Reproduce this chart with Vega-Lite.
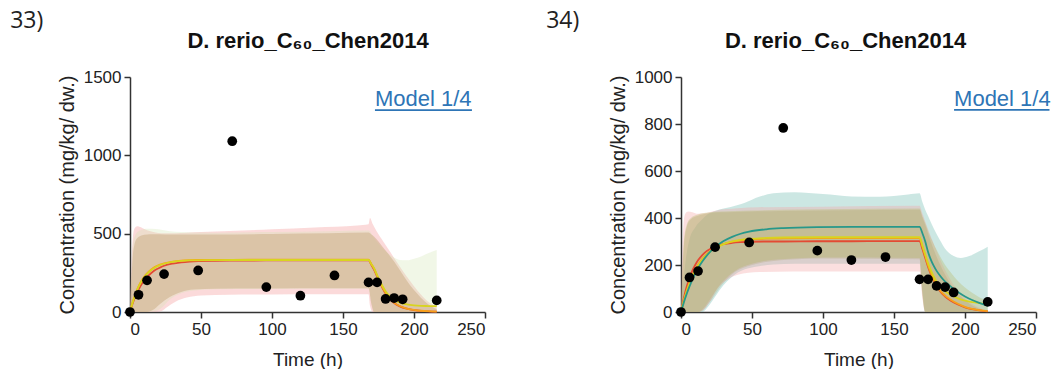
{
  "$schema": "https://vega.github.io/schema/vega-lite/v6.json",
  "padding": {"left": 10, "top": 10, "right": 0, "bottom": 0},
  "spacing": 60,
  "config": {
    "view": {"stroke": null},
    "font": "Liberation Sans",
    "axis": {
      "grid": false,
      "domainColor": "#333333",
      "tickColor": "#333333",
      "domainWidth": 1.5,
      "tickWidth": 1.5,
      "tickSize": 6,
      "labelFont": "Liberation Sans",
      "labelFontSize": 17,
      "labelColor": "#222222",
      "labelPadding": 3,
      "titleFont": "Liberation Sans",
      "titleFontSize": 20,
      "titleFontWeight": "normal",
      "titleColor": "#222222"
    },
    "title": {"font": "Open Sans", "fontSize": 23, "fontWeight": "normal", "color": "#222222", "anchor": "start", "frame": "bounds", "offset": -4}
  },
  "datasets": {
    "pts33": [
      {"t": 0, "c": 0}, {"t": 6, "c": 110}, {"t": 12, "c": 202}, {"t": 24, "c": 242}, {"t": 48, "c": 265},
      {"t": 72, "c": 1090}, {"t": 96, "c": 159}, {"t": 120, "c": 104}, {"t": 144, "c": 233}, {"t": 168, "c": 189},
      {"t": 174, "c": 189}, {"t": 180, "c": 83}, {"t": 186, "c": 89}, {"t": 192, "c": 81}, {"t": 216, "c": 74}
    ],
    "pts34": [
      {"t": 0, "c": 0}, {"t": 6, "c": 147}, {"t": 12, "c": 174}, {"t": 24, "c": 276}, {"t": 48, "c": 296},
      {"t": 72, "c": 783}, {"t": 96, "c": 261}, {"t": 120, "c": 221}, {"t": 144, "c": 234}, {"t": 168, "c": 139},
      {"t": 174, "c": 139}, {"t": 180, "c": 111}, {"t": 186, "c": 106}, {"t": 192, "c": 83}, {"t": 216, "c": 43}
    ],
    "fit33": [
      {"m": "M1", "t": 0, "c": 0}, {"m": "M1", "t": 2, "c": 57}, {"m": "M1", "t": 4, "c": 104}, {"m": "M1", "t": 6, "c": 142},
      {"m": "M1", "t": 8, "c": 175}, {"m": "M1", "t": 10, "c": 201}, {"m": "M1", "t": 12, "c": 223}, {"m": "M1", "t": 15, "c": 249},
      {"m": "M1", "t": 18, "c": 269}, {"m": "M1", "t": 21, "c": 283}, {"m": "M1", "t": 24, "c": 295}, {"m": "M1", "t": 30, "c": 309},
      {"m": "M1", "t": 36, "c": 317}, {"m": "M1", "t": 42, "c": 322}, {"m": "M1", "t": 48, "c": 325}, {"m": "M1", "t": 60, "c": 327},
      {"m": "M1", "t": 72, "c": 328}, {"m": "M1", "t": 96, "c": 329}, {"m": "M1", "t": 120, "c": 329}, {"m": "M1", "t": 144, "c": 330},
      {"m": "M1", "t": 168, "c": 330}, {"m": "M1", "t": 170, "c": 300}, {"m": "M1", "t": 172, "c": 268}, {"m": "M1", "t": 174, "c": 226},
      {"m": "M1", "t": 176, "c": 186}, {"m": "M1", "t": 178, "c": 150}, {"m": "M1", "t": 180, "c": 118}, {"m": "M1", "t": 183, "c": 82},
      {"m": "M1", "t": 186, "c": 57}, {"m": "M1", "t": 190, "c": 36}, {"m": "M1", "t": 195, "c": 21}, {"m": "M1", "t": 200, "c": 12},
      {"m": "M1", "t": 205, "c": 7}, {"m": "M1", "t": 210, "c": 4}, {"m": "M1", "t": 216, "c": 2},
      {"m": "M2", "t": 0, "c": 0}, {"m": "M2", "t": 2, "c": 67}, {"m": "M2", "t": 4, "c": 120}, {"m": "M2", "t": 6, "c": 163},
      {"m": "M2", "t": 8, "c": 198}, {"m": "M2", "t": 10, "c": 225}, {"m": "M2", "t": 12, "c": 246}, {"m": "M2", "t": 15, "c": 271},
      {"m": "M2", "t": 18, "c": 290}, {"m": "M2", "t": 21, "c": 302}, {"m": "M2", "t": 24, "c": 311}, {"m": "M2", "t": 30, "c": 322},
      {"m": "M2", "t": 36, "c": 328}, {"m": "M2", "t": 42, "c": 331}, {"m": "M2", "t": 48, "c": 332}, {"m": "M2", "t": 60, "c": 333},
      {"m": "M2", "t": 72, "c": 333}, {"m": "M2", "t": 96, "c": 334}, {"m": "M2", "t": 120, "c": 334}, {"m": "M2", "t": 144, "c": 334},
      {"m": "M2", "t": 168, "c": 334}, {"m": "M2", "t": 170, "c": 305}, {"m": "M2", "t": 172, "c": 275}, {"m": "M2", "t": 174, "c": 232},
      {"m": "M2", "t": 176, "c": 192}, {"m": "M2", "t": 178, "c": 155}, {"m": "M2", "t": 180, "c": 122}, {"m": "M2", "t": 183, "c": 85},
      {"m": "M2", "t": 186, "c": 60}, {"m": "M2", "t": 190, "c": 38}, {"m": "M2", "t": 195, "c": 22}, {"m": "M2", "t": 200, "c": 13},
      {"m": "M2", "t": 205, "c": 8}, {"m": "M2", "t": 210, "c": 5}, {"m": "M2", "t": 216, "c": 3},
      {"m": "M3", "t": 0, "c": 0}, {"m": "M3", "t": 2, "c": 65}, {"m": "M3", "t": 4, "c": 118}, {"m": "M3", "t": 6, "c": 160},
      {"m": "M3", "t": 8, "c": 194}, {"m": "M3", "t": 10, "c": 221}, {"m": "M3", "t": 12, "c": 243}, {"m": "M3", "t": 15, "c": 268},
      {"m": "M3", "t": 18, "c": 286}, {"m": "M3", "t": 21, "c": 299}, {"m": "M3", "t": 24, "c": 308}, {"m": "M3", "t": 30, "c": 320},
      {"m": "M3", "t": 36, "c": 326}, {"m": "M3", "t": 42, "c": 329}, {"m": "M3", "t": 48, "c": 330}, {"m": "M3", "t": 60, "c": 331},
      {"m": "M3", "t": 72, "c": 332}, {"m": "M3", "t": 96, "c": 332}, {"m": "M3", "t": 120, "c": 332}, {"m": "M3", "t": 144, "c": 332},
      {"m": "M3", "t": 168, "c": 332}, {"m": "M3", "t": 170, "c": 305}, {"m": "M3", "t": 172, "c": 276}, {"m": "M3", "t": 174, "c": 236},
      {"m": "M3", "t": 176, "c": 198}, {"m": "M3", "t": 178, "c": 163}, {"m": "M3", "t": 180, "c": 133}, {"m": "M3", "t": 183, "c": 100},
      {"m": "M3", "t": 186, "c": 78}, {"m": "M3", "t": 190, "c": 60}, {"m": "M3", "t": 195, "c": 48}, {"m": "M3", "t": 200, "c": 42},
      {"m": "M3", "t": 205, "c": 39}, {"m": "M3", "t": 210, "c": 38}, {"m": "M3", "t": 216, "c": 37}
    ],
    "fit34": [
      {"m": "M1", "t": 0, "c": 0}, {"m": "M1", "t": 2, "c": 59}, {"m": "M1", "t": 4, "c": 107}, {"m": "M1", "t": 6, "c": 145},
      {"m": "M1", "t": 8, "c": 176}, {"m": "M1", "t": 10, "c": 200}, {"m": "M1", "t": 12, "c": 220}, {"m": "M1", "t": 15, "c": 242},
      {"m": "M1", "t": 18, "c": 259}, {"m": "M1", "t": 21, "c": 270}, {"m": "M1", "t": 24, "c": 279}, {"m": "M1", "t": 30, "c": 289},
      {"m": "M1", "t": 36, "c": 294}, {"m": "M1", "t": 42, "c": 297}, {"m": "M1", "t": 48, "c": 299}, {"m": "M1", "t": 60, "c": 300},
      {"m": "M1", "t": 72, "c": 300}, {"m": "M1", "t": 96, "c": 301}, {"m": "M1", "t": 120, "c": 301}, {"m": "M1", "t": 144, "c": 302},
      {"m": "M1", "t": 168, "c": 302}, {"m": "M1", "t": 170, "c": 268}, {"m": "M1", "t": 172, "c": 230}, {"m": "M1", "t": 174, "c": 192},
      {"m": "M1", "t": 176, "c": 160}, {"m": "M1", "t": 178, "c": 133}, {"m": "M1", "t": 180, "c": 110}, {"m": "M1", "t": 183, "c": 84},
      {"m": "M1", "t": 186, "c": 66}, {"m": "M1", "t": 190, "c": 48}, {"m": "M1", "t": 195, "c": 32}, {"m": "M1", "t": 200, "c": 20},
      {"m": "M1", "t": 205, "c": 12}, {"m": "M1", "t": 210, "c": 7}, {"m": "M1", "t": 216, "c": 3},
      {"m": "M2", "t": 0, "c": 0}, {"m": "M2", "t": 2, "c": 49}, {"m": "M2", "t": 4, "c": 90}, {"m": "M2", "t": 6, "c": 125},
      {"m": "M2", "t": 8, "c": 155}, {"m": "M2", "t": 10, "c": 180}, {"m": "M2", "t": 12, "c": 201}, {"m": "M2", "t": 15, "c": 226},
      {"m": "M2", "t": 18, "c": 246}, {"m": "M2", "t": 21, "c": 262}, {"m": "M2", "t": 24, "c": 273}, {"m": "M2", "t": 30, "c": 289},
      {"m": "M2", "t": 36, "c": 299}, {"m": "M2", "t": 42, "c": 305}, {"m": "M2", "t": 48, "c": 308}, {"m": "M2", "t": 60, "c": 312},
      {"m": "M2", "t": 72, "c": 313}, {"m": "M2", "t": 96, "c": 314}, {"m": "M2", "t": 120, "c": 314}, {"m": "M2", "t": 144, "c": 314},
      {"m": "M2", "t": 168, "c": 314}, {"m": "M2", "t": 170, "c": 278}, {"m": "M2", "t": 172, "c": 238}, {"m": "M2", "t": 174, "c": 198},
      {"m": "M2", "t": 176, "c": 165}, {"m": "M2", "t": 178, "c": 138}, {"m": "M2", "t": 180, "c": 115}, {"m": "M2", "t": 183, "c": 88},
      {"m": "M2", "t": 186, "c": 70}, {"m": "M2", "t": 190, "c": 52}, {"m": "M2", "t": 195, "c": 35}, {"m": "M2", "t": 200, "c": 22},
      {"m": "M2", "t": 205, "c": 13}, {"m": "M2", "t": 210, "c": 8}, {"m": "M2", "t": 216, "c": 4},
      {"m": "M3", "t": 0, "c": 0}, {"m": "M3", "t": 2, "c": 47}, {"m": "M3", "t": 4, "c": 87}, {"m": "M3", "t": 6, "c": 121},
      {"m": "M3", "t": 8, "c": 150}, {"m": "M3", "t": 10, "c": 175}, {"m": "M3", "t": 12, "c": 196}, {"m": "M3", "t": 15, "c": 222},
      {"m": "M3", "t": 18, "c": 243}, {"m": "M3", "t": 21, "c": 259}, {"m": "M3", "t": 24, "c": 271}, {"m": "M3", "t": 30, "c": 289},
      {"m": "M3", "t": 36, "c": 300}, {"m": "M3", "t": 42, "c": 307}, {"m": "M3", "t": 48, "c": 311}, {"m": "M3", "t": 60, "c": 315},
      {"m": "M3", "t": 72, "c": 317}, {"m": "M3", "t": 96, "c": 318}, {"m": "M3", "t": 120, "c": 318}, {"m": "M3", "t": 144, "c": 318},
      {"m": "M3", "t": 168, "c": 318}, {"m": "M3", "t": 170, "c": 284}, {"m": "M3", "t": 172, "c": 246}, {"m": "M3", "t": 174, "c": 208},
      {"m": "M3", "t": 176, "c": 177}, {"m": "M3", "t": 178, "c": 151}, {"m": "M3", "t": 180, "c": 129}, {"m": "M3", "t": 183, "c": 105},
      {"m": "M3", "t": 186, "c": 88}, {"m": "M3", "t": 190, "c": 72}, {"m": "M3", "t": 195, "c": 58}, {"m": "M3", "t": 200, "c": 48},
      {"m": "M3", "t": 205, "c": 42}, {"m": "M3", "t": 210, "c": 38}, {"m": "M3", "t": 216, "c": 34},
      {"m": "M4", "t": 0, "c": 0}, {"m": "M4", "t": 2, "c": 41}, {"m": "M4", "t": 4, "c": 77}, {"m": "M4", "t": 6, "c": 109},
      {"m": "M4", "t": 8, "c": 138}, {"m": "M4", "t": 10, "c": 163}, {"m": "M4", "t": 12, "c": 186}, {"m": "M4", "t": 15, "c": 215},
      {"m": "M4", "t": 18, "c": 239}, {"m": "M4", "t": 21, "c": 259}, {"m": "M4", "t": 24, "c": 276}, {"m": "M4", "t": 30, "c": 302},
      {"m": "M4", "t": 36, "c": 320}, {"m": "M4", "t": 42, "c": 333}, {"m": "M4", "t": 48, "c": 342}, {"m": "M4", "t": 60, "c": 352},
      {"m": "M4", "t": 72, "c": 357}, {"m": "M4", "t": 96, "c": 361}, {"m": "M4", "t": 120, "c": 362}, {"m": "M4", "t": 144, "c": 362},
      {"m": "M4", "t": 168, "c": 362}, {"m": "M4", "t": 170, "c": 335}, {"m": "M4", "t": 172, "c": 300}, {"m": "M4", "t": 174, "c": 255},
      {"m": "M4", "t": 176, "c": 222}, {"m": "M4", "t": 178, "c": 196}, {"m": "M4", "t": 180, "c": 175}, {"m": "M4", "t": 183, "c": 150},
      {"m": "M4", "t": 186, "c": 129}, {"m": "M4", "t": 190, "c": 108}, {"m": "M4", "t": 195, "c": 85}, {"m": "M4", "t": 200, "c": 66},
      {"m": "M4", "t": 205, "c": 51}, {"m": "M4", "t": 210, "c": 39}, {"m": "M4", "t": 216, "c": 27}
    ],
    "band33": [
      {"m": "M1", "t": 0, "lo": 0, "hi": 0}, {"m": "M1", "t": 1, "lo": 0, "hi": 300}, {"m": "M1", "t": 2, "lo": 0, "hi": 470},
      {"m": "M1", "t": 3, "lo": 0, "hi": 530}, {"m": "M1", "t": 5, "lo": 0, "hi": 548}, {"m": "M1", "t": 8, "lo": 0, "hi": 540},
      {"m": "M1", "t": 12, "lo": 0, "hi": 522}, {"m": "M1", "t": 18, "lo": 0, "hi": 508}, {"m": "M1", "t": 22, "lo": 5, "hi": 503},
      {"m": "M1", "t": 26, "lo": 30, "hi": 502}, {"m": "M1", "t": 32, "lo": 65, "hi": 503}, {"m": "M1", "t": 40, "lo": 92, "hi": 506},
      {"m": "M1", "t": 50, "lo": 105, "hi": 510}, {"m": "M1", "t": 70, "lo": 110, "hi": 517}, {"m": "M1", "t": 100, "lo": 112, "hi": 528},
      {"m": "M1", "t": 130, "lo": 113, "hi": 540}, {"m": "M1", "t": 160, "lo": 114, "hi": 552}, {"m": "M1", "t": 168, "lo": 114, "hi": 560},
      {"m": "M1", "t": 169, "lo": 40, "hi": 600}, {"m": "M1", "t": 171, "lo": 0, "hi": 560}, {"m": "M1", "t": 174, "lo": 0, "hi": 510},
      {"m": "M1", "t": 178, "lo": 0, "hi": 455}, {"m": "M1", "t": 182, "lo": 0, "hi": 400}, {"m": "M1", "t": 186, "lo": 0, "hi": 345},
      {"m": "M1", "t": 190, "lo": 0, "hi": 290}, {"m": "M1", "t": 195, "lo": 0, "hi": 225}, {"m": "M1", "t": 200, "lo": 0, "hi": 165},
      {"m": "M1", "t": 205, "lo": 0, "hi": 110}, {"m": "M1", "t": 210, "lo": 0, "hi": 65}, {"m": "M1", "t": 216, "lo": 0, "hi": 35},
      {"m": "M3", "t": 0, "lo": 0, "hi": 0}, {"m": "M3", "t": 1, "lo": 0, "hi": 250}, {"m": "M3", "t": 2, "lo": 0, "hi": 430},
      {"m": "M3", "t": 4, "lo": 0, "hi": 495}, {"m": "M3", "t": 7, "lo": 0, "hi": 520}, {"m": "M3", "t": 12, "lo": 0, "hi": 532},
      {"m": "M3", "t": 18, "lo": 5, "hi": 530}, {"m": "M3", "t": 22, "lo": 25, "hi": 525}, {"m": "M3", "t": 28, "lo": 80, "hi": 516},
      {"m": "M3", "t": 36, "lo": 120, "hi": 510}, {"m": "M3", "t": 45, "lo": 138, "hi": 507}, {"m": "M3", "t": 60, "lo": 145, "hi": 506},
      {"m": "M3", "t": 100, "lo": 147, "hi": 510}, {"m": "M3", "t": 140, "lo": 148, "hi": 515}, {"m": "M3", "t": 168, "lo": 148, "hi": 520},
      {"m": "M3", "t": 170, "lo": 60, "hi": 500}, {"m": "M3", "t": 172, "lo": 0, "hi": 470}, {"m": "M3", "t": 176, "lo": 0, "hi": 425},
      {"m": "M3", "t": 180, "lo": 0, "hi": 390}, {"m": "M3", "t": 185, "lo": 0, "hi": 352}, {"m": "M3", "t": 190, "lo": 0, "hi": 332},
      {"m": "M3", "t": 195, "lo": 0, "hi": 330}, {"m": "M3", "t": 200, "lo": 0, "hi": 340}, {"m": "M3", "t": 205, "lo": 0, "hi": 355},
      {"m": "M3", "t": 210, "lo": 0, "hi": 375}, {"m": "M3", "t": 216, "lo": 0, "hi": 395},
      {"m": "M2", "t": 0, "lo": 0, "hi": 0}, {"m": "M2", "t": 1, "lo": 0, "hi": 210}, {"m": "M2", "t": 2, "lo": 0, "hi": 360},
      {"m": "M2", "t": 3, "lo": 0, "hi": 425}, {"m": "M2", "t": 5, "lo": 0, "hi": 470}, {"m": "M2", "t": 8, "lo": 0, "hi": 488},
      {"m": "M2", "t": 12, "lo": 0, "hi": 495}, {"m": "M2", "t": 16, "lo": 12, "hi": 497}, {"m": "M2", "t": 21, "lo": 50, "hi": 497},
      {"m": "M2", "t": 28, "lo": 95, "hi": 495}, {"m": "M2", "t": 36, "lo": 127, "hi": 494}, {"m": "M2", "t": 45, "lo": 143, "hi": 494},
      {"m": "M2", "t": 60, "lo": 148, "hi": 495}, {"m": "M2", "t": 100, "lo": 150, "hi": 498}, {"m": "M2", "t": 140, "lo": 151, "hi": 502},
      {"m": "M2", "t": 168, "lo": 151, "hi": 507}, {"m": "M2", "t": 170, "lo": 50, "hi": 495}, {"m": "M2", "t": 172, "lo": 0, "hi": 480},
      {"m": "M2", "t": 175, "lo": 0, "hi": 450}, {"m": "M2", "t": 178, "lo": 0, "hi": 415}, {"m": "M2", "t": 182, "lo": 0, "hi": 370},
      {"m": "M2", "t": 186, "lo": 0, "hi": 322}, {"m": "M2", "t": 190, "lo": 0, "hi": 268}, {"m": "M2", "t": 195, "lo": 0, "hi": 200},
      {"m": "M2", "t": 200, "lo": 0, "hi": 140}, {"m": "M2", "t": 205, "lo": 0, "hi": 90}, {"m": "M2", "t": 210, "lo": 0, "hi": 50},
      {"m": "M2", "t": 216, "lo": 0, "hi": 18}
    ],
    "band34": [
      {"m": "M4", "t": 0, "lo": 0, "hi": 0}, {"m": "M4", "t": 2, "lo": 0, "hi": 150}, {"m": "M4", "t": 4, "lo": 0, "hi": 250},
      {"m": "M4", "t": 6, "lo": 0, "hi": 310}, {"m": "M4", "t": 10, "lo": 0, "hi": 360}, {"m": "M4", "t": 15, "lo": 0, "hi": 395},
      {"m": "M4", "t": 18, "lo": 15, "hi": 412}, {"m": "M4", "t": 20, "lo": 30, "hi": 420}, {"m": "M4", "t": 24, "lo": 65, "hi": 430},
      {"m": "M4", "t": 30, "lo": 115, "hi": 440}, {"m": "M4", "t": 35, "lo": 145, "hi": 447}, {"m": "M4", "t": 40, "lo": 168, "hi": 455},
      {"m": "M4", "t": 45, "lo": 182, "hi": 465}, {"m": "M4", "t": 55, "lo": 195, "hi": 490}, {"m": "M4", "t": 65, "lo": 202, "hi": 505},
      {"m": "M4", "t": 80, "lo": 205, "hi": 510}, {"m": "M4", "t": 100, "lo": 205, "hi": 502}, {"m": "M4", "t": 120, "lo": 205, "hi": 492},
      {"m": "M4", "t": 140, "lo": 205, "hi": 490}, {"m": "M4", "t": 160, "lo": 205, "hi": 500}, {"m": "M4", "t": 168, "lo": 205, "hi": 505},
      {"m": "M4", "t": 170, "lo": 90, "hi": 468}, {"m": "M4", "t": 172, "lo": 0, "hi": 435}, {"m": "M4", "t": 175, "lo": 0, "hi": 395},
      {"m": "M4", "t": 178, "lo": 0, "hi": 355}, {"m": "M4", "t": 182, "lo": 0, "hi": 310}, {"m": "M4", "t": 187, "lo": 0, "hi": 262},
      {"m": "M4", "t": 192, "lo": 0, "hi": 238}, {"m": "M4", "t": 197, "lo": 0, "hi": 230}, {"m": "M4", "t": 203, "lo": 0, "hi": 238},
      {"m": "M4", "t": 210, "lo": 0, "hi": 258}, {"m": "M4", "t": 216, "lo": 0, "hi": 278},
      {"m": "M1", "t": 0, "lo": 0, "hi": 0}, {"m": "M1", "t": 1, "lo": 0, "hi": 260}, {"m": "M1", "t": 2, "lo": 0, "hi": 390},
      {"m": "M1", "t": 3, "lo": 0, "hi": 418}, {"m": "M1", "t": 5, "lo": 0, "hi": 428}, {"m": "M1", "t": 8, "lo": 0, "hi": 425},
      {"m": "M1", "t": 12, "lo": 0, "hi": 418}, {"m": "M1", "t": 16, "lo": 10, "hi": 420}, {"m": "M1", "t": 20, "lo": 40, "hi": 425},
      {"m": "M1", "t": 25, "lo": 95, "hi": 432}, {"m": "M1", "t": 32, "lo": 135, "hi": 438}, {"m": "M1", "t": 40, "lo": 158, "hi": 442},
      {"m": "M1", "t": 55, "lo": 170, "hi": 446}, {"m": "M1", "t": 100, "lo": 172, "hi": 448}, {"m": "M1", "t": 168, "lo": 172, "hi": 452},
      {"m": "M1", "t": 170, "lo": 60, "hi": 420}, {"m": "M1", "t": 172, "lo": 0, "hi": 385}, {"m": "M1", "t": 176, "lo": 0, "hi": 320},
      {"m": "M1", "t": 180, "lo": 0, "hi": 260}, {"m": "M1", "t": 185, "lo": 0, "hi": 190}, {"m": "M1", "t": 190, "lo": 0, "hi": 135},
      {"m": "M1", "t": 195, "lo": 0, "hi": 90}, {"m": "M1", "t": 200, "lo": 0, "hi": 58}, {"m": "M1", "t": 205, "lo": 0, "hi": 35},
      {"m": "M1", "t": 210, "lo": 0, "hi": 18}, {"m": "M1", "t": 216, "lo": 0, "hi": 8},
      {"m": "M3", "t": 0, "lo": 0, "hi": 0}, {"m": "M3", "t": 2, "lo": 0, "hi": 300}, {"m": "M3", "t": 4, "lo": 0, "hi": 370},
      {"m": "M3", "t": 7, "lo": 0, "hi": 400}, {"m": "M3", "t": 12, "lo": 0, "hi": 415}, {"m": "M3", "t": 15, "lo": 10, "hi": 420},
      {"m": "M3", "t": 20, "lo": 50, "hi": 425}, {"m": "M3", "t": 28, "lo": 120, "hi": 428}, {"m": "M3", "t": 38, "lo": 175, "hi": 430},
      {"m": "M3", "t": 50, "lo": 205, "hi": 432}, {"m": "M3", "t": 70, "lo": 225, "hi": 435}, {"m": "M3", "t": 100, "lo": 232, "hi": 437},
      {"m": "M3", "t": 168, "lo": 230, "hi": 440}, {"m": "M3", "t": 170, "lo": 80, "hi": 410}, {"m": "M3", "t": 172, "lo": 0, "hi": 380},
      {"m": "M3", "t": 175, "lo": 0, "hi": 330}, {"m": "M3", "t": 180, "lo": 0, "hi": 265}, {"m": "M3", "t": 185, "lo": 0, "hi": 210},
      {"m": "M3", "t": 190, "lo": 0, "hi": 168}, {"m": "M3", "t": 195, "lo": 0, "hi": 132}, {"m": "M3", "t": 200, "lo": 0, "hi": 104},
      {"m": "M3", "t": 205, "lo": 0, "hi": 82}, {"m": "M3", "t": 210, "lo": 0, "hi": 63}, {"m": "M3", "t": 216, "lo": 0, "hi": 48},
      {"m": "M2", "t": 0, "lo": 0, "hi": 0}, {"m": "M2", "t": 2, "lo": 0, "hi": 280}, {"m": "M2", "t": 4, "lo": 0, "hi": 360},
      {"m": "M2", "t": 7, "lo": 0, "hi": 395}, {"m": "M2", "t": 12, "lo": 0, "hi": 410}, {"m": "M2", "t": 15, "lo": 5, "hi": 415},
      {"m": "M2", "t": 20, "lo": 40, "hi": 420}, {"m": "M2", "t": 28, "lo": 110, "hi": 424}, {"m": "M2", "t": 38, "lo": 170, "hi": 426},
      {"m": "M2", "t": 50, "lo": 200, "hi": 428}, {"m": "M2", "t": 70, "lo": 220, "hi": 430}, {"m": "M2", "t": 100, "lo": 228, "hi": 432},
      {"m": "M2", "t": 168, "lo": 225, "hi": 435}, {"m": "M2", "t": 170, "lo": 70, "hi": 402}, {"m": "M2", "t": 172, "lo": 0, "hi": 370},
      {"m": "M2", "t": 175, "lo": 0, "hi": 315}, {"m": "M2", "t": 180, "lo": 0, "hi": 235}, {"m": "M2", "t": 185, "lo": 0, "hi": 170},
      {"m": "M2", "t": 190, "lo": 0, "hi": 118}, {"m": "M2", "t": 195, "lo": 0, "hi": 80}, {"m": "M2", "t": 200, "lo": 0, "hi": 50},
      {"m": "M2", "t": 205, "lo": 0, "hi": 28}, {"m": "M2", "t": 210, "lo": 0, "hi": 14}, {"m": "M2", "t": 216, "lo": 0, "hi": 5}
    ],
    "link": [{"text": "Model 1/4"}]
  },
  "hconcat": [
    {
      "width": 355,
      "height": 235,
      "title": {"text": "33)", "dx": -47},
      "resolve": {"axis": {"x": "independent"}},
      "layer": [
        {
          "layer": [
            {
              "data": {"name": "band33"},
              "transform": [{"filter": "datum.m === 'M1'"}],
              "mark": {"type": "area", "color": "#F4A3A3", "opacity": 0.4, "interpolate": "monotone"},
              "encoding": {
                "x": {"field": "t", "type": "quantitative", "scale": {"domain": [0, 250], "nice": false},
                      "axis": {"values": [0, 50, 100, 150, 200, 250], "title": "Time (h)", "titleFontSize": 19, "titlePadding": 13}},
                "y": {"field": "lo", "type": "quantitative", "scale": {"domain": [0, 1500], "nice": false},
                      "axis": {"values": [0, 500, 1000, 1500], "format": "d", "title": "Concentration (mg/kg/ dw.)", "titlePadding": 6}},
                "y2": {"field": "hi"}
              }
            },
            {
              "data": {"name": "band33"},
              "transform": [{"filter": "datum.m === 'M3'"}],
              "mark": {"type": "area", "color": "#CFE5B0", "opacity": 0.3, "interpolate": "monotone"},
              "encoding": {
                "x": {"field": "t", "type": "quantitative"},
                "y": {"field": "lo", "type": "quantitative"},
                "y2": {"field": "hi"}
              }
            },
            {
              "data": {"name": "band33"},
              "transform": [{"filter": "datum.m === 'M2'"}],
              "mark": {"type": "area", "color": "#C2A172", "opacity": 0.42, "interpolate": "monotone"},
              "encoding": {
                "x": {"field": "t", "type": "quantitative"},
                "y": {"field": "lo", "type": "quantitative"},
                "y2": {"field": "hi"}
              }
            },
            {
              "data": {"name": "fit33"},
              "mark": {"type": "line", "strokeWidth": 1.8, "interpolate": "monotone"},
              "encoding": {
                "x": {"field": "t", "type": "quantitative"},
                "y": {"field": "c", "type": "quantitative"},
                "color": {"field": "m", "type": "nominal", "legend": null,
                          "scale": {"domain": ["M1", "M2", "M3", "M4"], "range": ["#E34A33", "#F7A11A", "#D8D41F", "#27988A"]}}
              }
            },
            {
              "data": {"name": "pts33"},
              "mark": {"type": "circle", "size": 95, "color": "#000000", "opacity": 1},
              "encoding": {
                "x": {"field": "t", "type": "quantitative"},
                "y": {"field": "c", "type": "quantitative"}
              }
            },
            {
              "data": {"name": "link"},
              "mark": {"type": "text", "align": "left", "baseline": "alphabetic", "fontSize": 22, "color": "#2E75B6"},
              "encoding": {
                "x": {"datum": 172.5, "type": "quantitative"},
                "y": {"datum": 1315, "type": "quantitative"},
                "text": {"field": "text"}
              }
            },
            {
              "data": {"name": "link"},
              "mark": {"type": "rule", "color": "#2E75B6", "strokeWidth": 1.8},
              "encoding": {
                "x": {"datum": 172.5, "type": "quantitative"},
                "x2": {"datum": 240.8},
                "y": {"datum": 1289, "type": "quantitative"}
              }
            }
          ]
        },
        {
          "data": {"name": "pts33"},
          "mark": {"type": "point", "opacity": 0},
          "encoding": {
            "x": {"field": "t", "type": "quantitative",
                  "axis": {"orient": "top", "labels": false, "ticks": false, "domain": false,
                           "title": "D. rerio_C₆₀_Chen2014", "titleFontWeight": "bold", "titleFontSize": 22,
                           "titleColor": "#111111", "titlePadding": 25}},
            "y": {"field": "c", "type": "quantitative"}
          }
        }
      ]
    },
    {
      "width": 355,
      "height": 235,
      "title": {"text": "34)", "dx": -62},
      "resolve": {"axis": {"x": "independent"}},
      "layer": [
        {
          "layer": [
            {
              "data": {"name": "band34"},
              "transform": [{"filter": "datum.m === 'M4'"}],
              "mark": {"type": "area", "color": "#7FC4B8", "opacity": 0.4, "interpolate": "monotone"},
              "encoding": {
                "x": {"field": "t", "type": "quantitative", "scale": {"domain": [0, 250], "nice": false},
                      "axis": {"values": [0, 50, 100, 150, 200, 250], "title": "Time (h)", "titleFontSize": 19, "titlePadding": 13}},
                "y": {"field": "lo", "type": "quantitative", "scale": {"domain": [0, 1000], "nice": false},
                      "axis": {"values": [0, 200, 400, 600, 800, 1000], "format": "d", "title": "Concentration (mg/kg/ dw.)", "titlePadding": 6}},
                "y2": {"field": "hi"}
              }
            },
            {
              "data": {"name": "band34"},
              "transform": [{"filter": "datum.m === 'M1'"}],
              "mark": {"type": "area", "color": "#F4A3A3", "opacity": 0.35, "interpolate": "monotone"},
              "encoding": {
                "x": {"field": "t", "type": "quantitative"},
                "y": {"field": "lo", "type": "quantitative"},
                "y2": {"field": "hi"}
              }
            },
            {
              "data": {"name": "band34"},
              "transform": [{"filter": "datum.m === 'M3'"}],
              "mark": {"type": "area", "color": "#B8BA6A", "opacity": 0.35, "interpolate": "monotone"},
              "encoding": {
                "x": {"field": "t", "type": "quantitative"},
                "y": {"field": "lo", "type": "quantitative"},
                "y2": {"field": "hi"}
              }
            },
            {
              "data": {"name": "band34"},
              "transform": [{"filter": "datum.m === 'M2'"}],
              "mark": {"type": "area", "color": "#A89A60", "opacity": 0.25, "interpolate": "monotone"},
              "encoding": {
                "x": {"field": "t", "type": "quantitative"},
                "y": {"field": "lo", "type": "quantitative"},
                "y2": {"field": "hi"}
              }
            },
            {
              "data": {"name": "fit34"},
              "mark": {"type": "line", "strokeWidth": 1.8, "interpolate": "monotone"},
              "encoding": {
                "x": {"field": "t", "type": "quantitative"},
                "y": {"field": "c", "type": "quantitative"},
                "color": {"field": "m", "type": "nominal", "legend": null,
                          "scale": {"domain": ["M1", "M2", "M3", "M4"], "range": ["#E34A33", "#F7A11A", "#E8C81A", "#20907F"]}}
              }
            },
            {
              "data": {"name": "pts34"},
              "mark": {"type": "circle", "size": 95, "color": "#000000", "opacity": 1},
              "encoding": {
                "x": {"field": "t", "type": "quantitative"},
                "y": {"field": "c", "type": "quantitative"}
              }
            },
            {
              "data": {"name": "link"},
              "mark": {"type": "text", "align": "left", "baseline": "alphabetic", "fontSize": 22, "color": "#2E75B6"},
              "encoding": {
                "x": {"datum": 192.3, "type": "quantitative"},
                "y": {"datum": 877, "type": "quantitative"},
                "text": {"field": "text"}
              }
            },
            {
              "data": {"name": "link"},
              "mark": {"type": "rule", "color": "#2E75B6", "strokeWidth": 1.8},
              "encoding": {
                "x": {"datum": 192.3, "type": "quantitative"},
                "x2": {"datum": 259.5},
                "y": {"datum": 860, "type": "quantitative"}
              }
            }
          ]
        },
        {
          "data": {"name": "pts34"},
          "mark": {"type": "point", "opacity": 0},
          "encoding": {
            "x": {"field": "t", "type": "quantitative",
                  "axis": {"orient": "top", "labels": false, "ticks": false, "domain": false,
                           "title": "D. rerio_C₆₀_Chen2014", "titleFontWeight": "bold", "titleFontSize": 22,
                           "titleColor": "#111111", "titlePadding": 25, "titleX": 164}},
            "y": {"field": "c", "type": "quantitative"}
          }
        }
      ]
    }
  ]
}
